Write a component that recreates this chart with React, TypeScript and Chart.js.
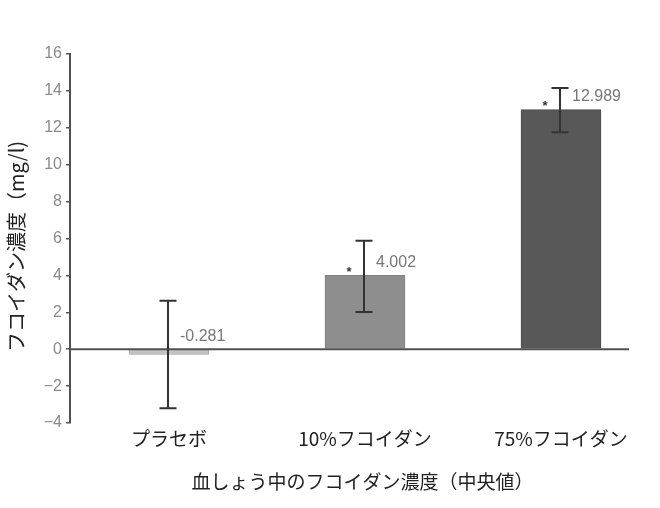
import React, { useEffect, useRef } from "react";
import { Chart, registerables } from "chart.js";

Chart.register(...registerables);

const categories = ["プラセボ", "10%フコイダン", "75%フコイダン"];
const medians = [-0.281, 4.002, 12.989];
const errUpper = [2.62, 5.88, 14.16];
const errLower = [-3.2, 2.02, 11.76];
const valueLabels = ["-0.281", "4.002", "12.989"];
const significant = [false, true, true];
const barColors = ["#c4c4c4", "#8e8e8e", "#585858"];
const barBorders = ["#a8a8a8", "#808080", "#4c4c4c"];
const yTicks = [-4, -2, 0, 2, 4, 6, 8, 10, 12, 14, 16];
const yTitle = "フコイダン濃度（mg/l)";
const xTitle = "血しょう中のフコイダン濃度（中央値）";

const annotate = {
  id: "annotate",
  afterDatasetsDraw(chart: any) {
    const { ctx, chartArea, scales } = chart;
    const xs = scales.x;
    const ys = scales.y;
    ctx.save();
    // zero line
    const y0 = ys.getPixelForValue(0);
    ctx.strokeStyle = "#505050";
    ctx.lineWidth = 2;
    ctx.beginPath();
    ctx.moveTo(chartArea.left, y0);
    ctx.lineTo(chartArea.right, y0);
    ctx.stroke();
    // error bars
    ctx.strokeStyle = "#333333";
    ctx.lineWidth = 2;
    medians.forEach((v, i) => {
      const cx = Math.round(xs.getPixelForValue(i)) - 1;
      const yt = ys.getPixelForValue(errUpper[i]);
      const yb = ys.getPixelForValue(errLower[i]);
      ctx.beginPath();
      ctx.moveTo(cx, yt);
      ctx.lineTo(cx, yb);
      ctx.moveTo(cx - 8.5, yt);
      ctx.lineTo(cx + 8.5, yt);
      ctx.moveTo(cx - 8.5, yb);
      ctx.lineTo(cx + 8.5, yb);
      ctx.stroke();
      // value labels
      const top = ys.getPixelForValue(Math.max(v, 0));
      ctx.fillStyle = "#777777";
      ctx.font = "16px 'Liberation Sans', Arial, sans-serif";
      ctx.textAlign = "left";
      ctx.textBaseline = "middle";
      ctx.fillText(valueLabels[i], cx + 12, top - 13);
      if (significant[i]) {
        ctx.fillStyle = "#333333";
        ctx.font = "bold 13px 'Liberation Sans', Arial, sans-serif";
        ctx.textAlign = "center";
        ctx.fillText("*", cx - 15, top - 3);
      }
    });
    // titles
    ctx.fillStyle = "#222222";
    ctx.font = "19px 'Noto Sans CJK JP', sans-serif";
    ctx.textAlign = "center";
    ctx.textBaseline = "middle";
    ctx.fillText(xTitle, (chartArea.left + chartArea.right) / 2 + 13, chartArea.bottom + 59);
    ctx.font = "20px 'Noto Sans CJK JP', sans-serif";
    ctx.translate(16, (chartArea.top + chartArea.bottom) / 2 + 8);
    ctx.rotate(-Math.PI / 2);
    ctx.fillText(yTitle, 0, 0);
    ctx.restore();
  },
};

export default function App() {
  const ref = useRef<HTMLCanvasElement>(null);
  useEffect(() => {
    if (!ref.current) return;
    const chart = new Chart(ref.current, {
      type: "bar",
      data: {
        datasets: [
          {
            data: medians.map((v, i) => ({ x: i, y: v })),
            backgroundColor: barColors,
            borderColor: barBorders,
            borderWidth: 1,
            barThickness: 80,
          },
        ],
      },
      options: {
        animation: false,
        responsive: false,
        devicePixelRatio: 1,
        layout: { padding: { top: 54, right: 31, left: 0, bottom: 0 } },
        plugins: { legend: { display: false }, tooltip: { enabled: false } },
        scales: {
          x: {
            type: "linear",
            offset: false,
            min: -0.505,
            max: 2.347,
            grid: { display: false, drawTicks: false, offset: false },
            border: { display: false },
            afterBuildTicks: (s: any) => {
              s.ticks = categories.map((_, i) => ({ value: i }));
            },
            afterFit: (s: any) => {
              s.height = 85;
            },
            ticks: {
              autoSkip: false,
              maxRotation: 0,
              padding: 4,
              color: "#222222",
              font: { family: "'Noto Sans CJK JP', sans-serif", size: 19 },
              callback: (v: any) => categories[v] ?? "",
            },
          },
          y: {
            min: -4,
            max: 16,
            afterBuildTicks: (s: any) => {
              s.ticks = yTicks.map((v) => ({ value: v }));
            },
            afterFit: (s: any) => {
              s.width = 70;
            },
            grid: {
              drawOnChartArea: false,
              drawTicks: true,
              tickLength: 4,
              color: "#555555",
              lineWidth: 1.5,
            },
            border: { display: true, color: "#505050", width: 2 },
            ticks: {
              padding: 4,
              color: "#8a8a8a",
              font: { family: "'Liberation Sans', Arial, sans-serif", size: 16 },
              callback: (v: any) => (v < 0 ? "\u2212" + Math.abs(v) : String(v)),
            },
          },
        },
      },
      plugins: [annotate],
    });
    return () => chart.destroy();
  }, []);
  return (
    <div style={{ position: "fixed", left: 0, top: 0, width: 660, height: 508, background: "#fff" }}>
      <canvas ref={ref} width={660} height={508} />
    </div>
  );
}
